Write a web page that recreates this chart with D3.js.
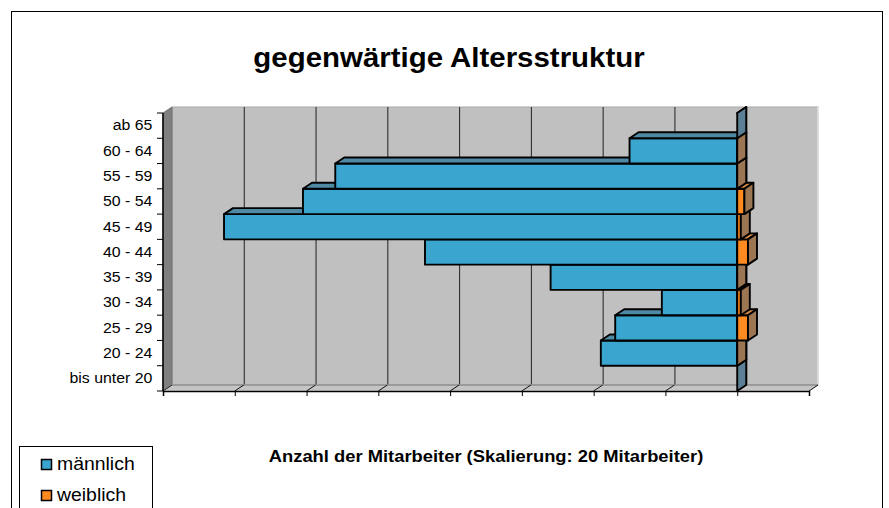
<!DOCTYPE html>
<html>
<head>
<meta charset="utf-8">
<script src="https://cdn.jsdelivr.net/npm/d3@7"></script>
<style>
  body { margin: 0; background: #fff; }
  svg { display: block; font-family: Arial, "Liberation Sans", sans-serif; }
</style>
</head>
<body>
<svg width="889" height="508"></svg>
<script>
// Altersgruppen, von oben nach unten
const categories = ["ab 65", "60 - 64", "55 - 59", "50 - 54", "45 - 49", "40 - 44",
                    "35 - 39", "30 - 34", "25 - 29", "20 - 24", "bis unter 20"];
const maennlich = [0, 30, 112, 121, 143, 87, 52, 21, 34, 38, 0];
const weiblich = [null, 0, 0, 2, 1, 3, 0, 1, 3, 0, null];
const xTicks = [-160, -140, -120, -100, -80, -60, -40, -20, 0, 20];
const seriesNames = ["männlich", "weiblich"];

const svg = d3.select("svg");
const dx = 9, dy = -6;   // 3D Tiefe

const x = d3.scaleLinear().domain([-160, 20]).range([163, 809]);
const y = d3.scaleBand().domain(categories).range([113, 391]).padding(0);
const bw = y.bandwidth();

const col = {
  mFront: "#3aa6cf", mTop: "#4e8aa4", mSide: "#5b8095",
  wFront: "#ff8a1f", wTop: "#d08a45", wSide: "#9c7653"
};

// Rahmen
svg.append("rect").attr("x", 11.5).attr("y", 11.5).attr("width", 871).attr("height", 530)
  .attr("fill", "#fff").attr("stroke", "#000");

// Titel
svg.append("text").attr("transform", "translate(449,67) scale(1.09,1)")
  .attr("text-anchor", "middle").attr("font-size", 27).attr("font-weight", "bold")
  .text("gegenwärtige Altersstruktur");

const pts = a => a.map(p => p.join(",")).join(" ");
const [x0, x1] = x.range(), [yT, yB] = y.range();

// Rückwand
svg.append("rect").attr("x", x0 + dx).attr("y", yT + dy)
  .attr("width", x1 - x0).attr("height", yB - yT)
  .attr("fill", "#c0c0c0").attr("stroke", "#a8a8a8");
svg.append("line").attr("x1", x1 + dx).attr("x2", x1 + dx).attr("y1", yT + dy).attr("y2", yB + dy)
  .attr("stroke", "#e4e4e4").attr("stroke-width", 1.5);

// Gitternetz an der Rückwand
svg.append("g").selectAll("line").data(xTicks.slice(1, -1)).join("line")
  .attr("x1", d => x(d) + dx + 0.5).attr("x2", d => x(d) + dx + 0.5)
  .attr("y1", yT + dy).attr("y2", yB + dy)
  .attr("stroke", "#222").attr("stroke-width", 1);

// Seitenwand links
svg.append("polygon")
  .attr("points", pts([[x0, yT], [x0 + dx, yT + dy], [x0 + dx, yB + dy], [x0, yB]]))
  .attr("fill", "#808080").attr("stroke", "#707070");

// Boden
svg.append("polygon")
  .attr("points", pts([[x0, yB], [x0 + dx, yB + dy], [x1 + dx, yB + dy], [x1, yB]]))
  .attr("fill", "#c4c4c4").attr("stroke", "#e0e0e0");
svg.append("line").attr("x1", x0 + dx).attr("x2", x1 + dx).attr("y1", yB + dy).attr("y2", yB + dy)
  .attr("stroke", "#888").attr("stroke-width", 1.5);
svg.append("g").selectAll("line").data(xTicks).join("line")
  .attr("x1", d => x(d)).attr("x2", d => x(d) + dx)
  .attr("y1", yB).attr("y2", yB + dy)
  .attr("stroke", "#111");

// Balken, von unten nach oben gezeichnet
const bars = svg.append("g").attr("stroke", "#000").attr("stroke-width", 1.9)
  .attr("stroke-linejoin", "round");

function box(g, xl, xr, yt, front, top, side) {
  const yb = yt + bw;
  g.append("rect").attr("x", xl).attr("y", yt).attr("width", xr - xl).attr("height", bw)
    .attr("fill", front);
  g.append("polygon").attr("points", pts([[xl, yt], [xl + dx, yt + dy], [xr + dx, yt + dy], [xr, yt]]))
    .attr("fill", top);
  g.append("polygon").attr("points", pts([[xr, yt], [xr + dx, yt + dy], [xr + dx, yb + dy], [xr, yb]]))
    .attr("fill", side);
}

d3.range(categories.length - 1, -1, -1).forEach(i => {
  const yt = y(categories[i]);
  box(bars, x(-maennlich[i]), x(0), yt, col.mFront, col.mTop, col.mSide);
  if (weiblich[i] !== null) box(bars, x(0), x(weiblich[i]), yt, col.wFront, col.wTop, col.wSide);
});

// Achsen
const yAxis = svg.append("g").attr("transform", `translate(${x0},0)`)
  .call(d3.axisLeft(y).tickSize(0).tickPadding(10));
yAxis.select(".domain").remove();
yAxis.selectAll("text").attr("font-size", 15).attr("fill", "#000")
  .attr("font-family", "Arial, 'Liberation Sans', sans-serif")
  .attr("transform", "scale(1.06,1)");

const bounds = categories.map(c => y(c)).concat([yB]);
svg.append("g").selectAll("line").data(bounds).join("line")
  .attr("x1", x0 - 6).attr("x2", x0).attr("y1", d => d).attr("y2", d => d)
  .attr("stroke", "#000");
svg.append("line").attr("x1", x0).attr("x2", x0).attr("y1", yT).attr("y2", yB)
  .attr("stroke", "#000").attr("stroke-width", 1.5);

const xAxis = svg.append("g").attr("transform", `translate(0,${yB})`)
  .call(d3.axisBottom(x).tickValues(xTicks).tickFormat("").tickSize(5));
xAxis.select(".domain").attr("stroke-width", 1.5);

svg.append("text").attr("transform", "translate(486,462) scale(1.08,1)")
  .attr("text-anchor", "middle").attr("font-size", 17).attr("font-weight", "bold")
  .text("Anzahl der Mitarbeiter (Skalierung: 20 Mitarbeiter)");

// Legende
svg.append("rect").attr("x", 19.5).attr("y", 446.5).attr("width", 133).attr("height", 80)
  .attr("fill", "#fff").attr("stroke", "#000");
const leg = svg.append("g").selectAll("g").data(seriesNames).join("g")
  .attr("transform", (d, i) => `translate(41,${459 + i * 31})`);
leg.append("rect").attr("x", 0.5).attr("y", 0.5).attr("width", 10).attr("height", 10)
  .attr("fill", (d, i) => i ? col.wFront : col.mFront).attr("stroke", "#000").attr("stroke-width", 1.5);
leg.append("text").attr("transform", "translate(16,11) scale(1.05,1)")
  .attr("font-size", 18.5).text(d => d);
</script>
</body>
</html>
